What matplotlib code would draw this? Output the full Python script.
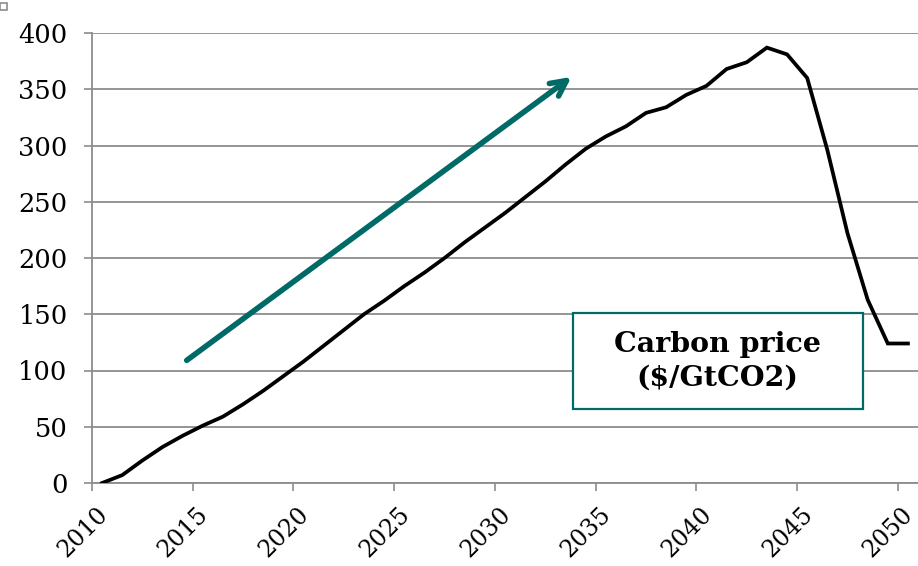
import matplotlib
matplotlib.use("Agg")
import matplotlib.pyplot as plt
import matplotlib.transforms as mtransforms
from matplotlib.patches import Rectangle

# Carbon price trajectory, one value per year
years = list(range(2010, 2051))
carbon_price = [0, 7, 20, 32, 42, 51, 59, 70, 82, 95,
                108, 122, 136, 150, 162, 175, 187, 200, 214, 227,
                240, 254, 268, 283, 297, 308, 317, 329, 334, 345,
                353, 368, 374, 387, 381, 360, 296, 222, 163, 124,
                124]
tick_years = [2010, 2015, 2020, 2025, 2030, 2035, 2040, 2045, 2050]
y_ticks = [0, 50, 100, 150, 200, 250, 300, 350, 400]
box_text = "Carbon price\n($/GtCO2)"

TEAL = "#006a66"
GRID = "#8c8c8c"
SERIF = "DejaVu Serif"

fig = plt.figure(figsize=(9.18, 5.66), dpi=100)
ax = fig.add_axes([92 / 918, 1 - 483 / 566, 826 / 918, 450 / 566])

xs = list(range(len(years)))
ax.plot(xs, carbon_price, color="black", lw=2.7, solid_joinstyle="miter", zorder=3)

ax.set_xlim(-0.5, len(years) - 0.5)
ax.set_ylim(0, 400)

# category-style axis: ticks sit on the boundaries between years
x_tick_pos = [years.index(y) - 0.5 for y in tick_years]
ax.set_xticks(x_tick_pos)
ax.set_xticklabels([])
label_tr = ax.get_xaxis_transform() + mtransforms.ScaledTranslation(
    12 / 100, -28 / 100, fig.dpi_scale_trans)
for pos, yr in zip(x_tick_pos, tick_years):
    ax.text(pos, 0, str(yr), transform=label_tr, rotation=45,
            rotation_mode="anchor", ha="right", va="center",
            fontsize=17, family=SERIF, clip_on=False)

ax.set_yticks(y_ticks)
ax.set_yticklabels([str(v) for v in y_ticks], fontsize=18.5, family=SERIF)
ax.tick_params(axis="y", length=5.5, width=1.2, color=GRID, pad=12)
ax.tick_params(axis="x", length=5.5, width=1.2, color=GRID)

ax.grid(axis="y", color=GRID, lw=1.3)
ax.set_axisbelow(True)
for s in ("top", "right"):
    ax.spines[s].set_visible(False)
for s in ("left", "bottom"):
    ax.spines[s].set_color(GRID)
    ax.spines[s].set_linewidth(1.3)

# trend arrow
ax.annotate("", xy=(23.3, 361), xytext=(4.2, 109),
            arrowprops=dict(arrowstyle="->", lw=4, color=TEAL,
                            mutation_scale=28, capstyle="round",
                            shrinkA=0, shrinkB=0),
            zorder=4)

# label box
bx, by, bw, bh = 0.582, 0.164, 0.351, 0.2134
ax.add_patch(Rectangle((bx, by), bw, bh, transform=ax.transAxes,
                       facecolor="white", edgecolor=TEAL, lw=1.6, zorder=5))
ax.text(bx + bw / 2, by + bh / 2, box_text, transform=ax.transAxes,
        ha="center", va="center", fontsize=20.5, fontweight="bold",
        family=SERIF, linespacing=1.3, zorder=6)

# small frame marker in the corner
fig.patches.append(Rectangle((0, 1 - 10 / 566), 7 / 918, 7 / 566,
                             transform=fig.transFigure, fill=False,
                             edgecolor=GRID, lw=1.2))

fig.savefig("out.png", dpi=100)
